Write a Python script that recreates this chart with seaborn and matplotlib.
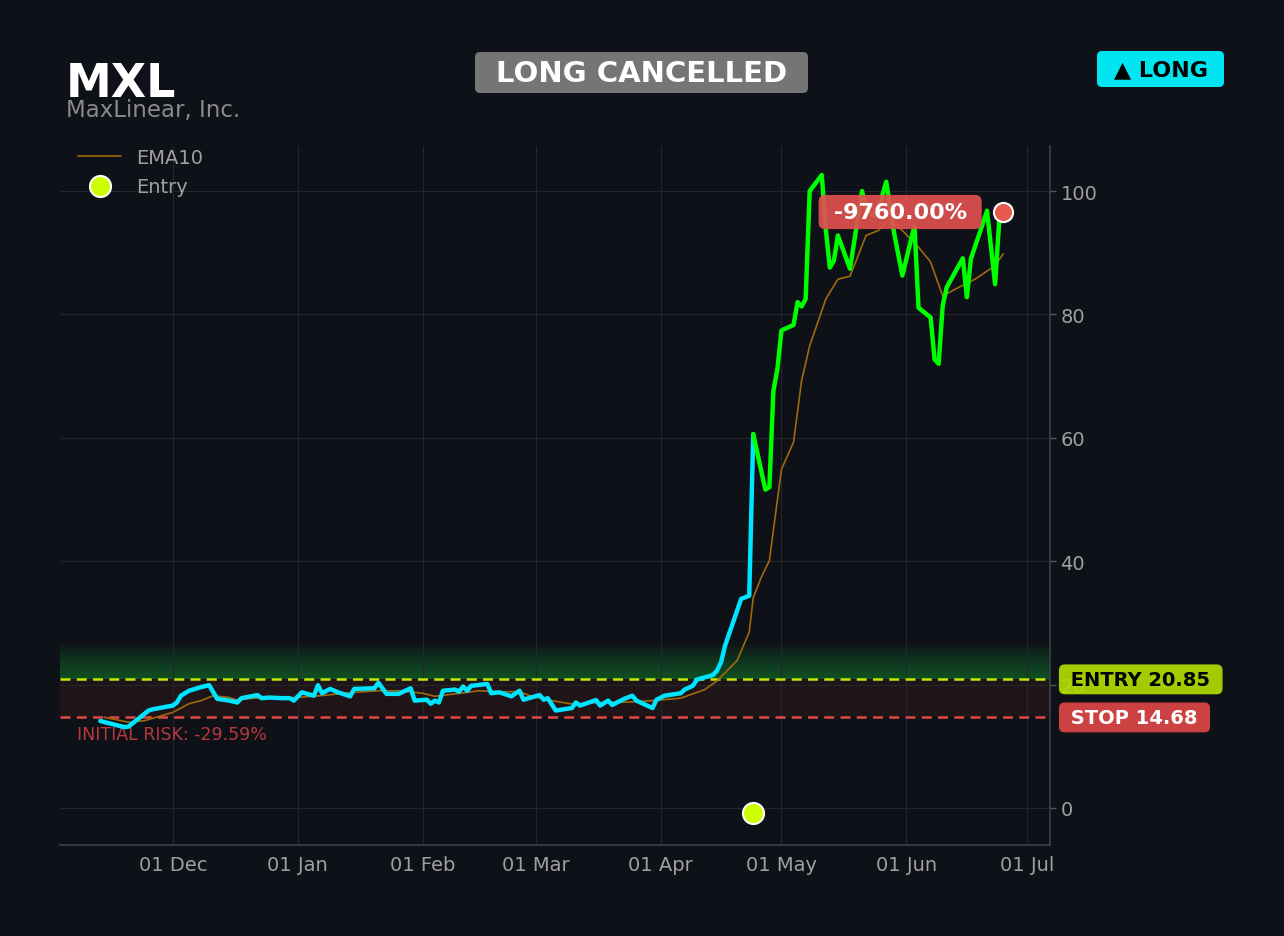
import pandas as pd
import seaborn as sns
import matplotlib.pyplot as plt
import matplotlib.dates as mdates
import matplotlib.transforms as mtransforms
from matplotlib.patches import FancyBboxPatch

# ---- data ----
ticker = 'MXL'
company = 'MaxLinear, Inc.'
status = 'LONG CANCELLED'
side = '\u25B2 LONG'
entry_price = 20.85
stop_price = 14.68
initial_risk = -29.59
pnl_pct = -9760.00
entry_date = '2025-04-24'
entry_marker_y = -0.8

price_dates = [
  '2024-11-13', '2024-11-19', '2024-11-20', '2024-11-25', '2024-11-26', '2024-12-01', '2024-12-02',
  '2024-12-03', '2024-12-05', '2024-12-08', '2024-12-10', '2024-12-12', '2024-12-15', '2024-12-17',
  '2024-12-18', '2024-12-22', '2024-12-23', '2024-12-25', '2024-12-28', '2024-12-30', '2024-12-31',
  '2025-01-02', '2025-01-05', '2025-01-06', '2025-01-07', '2025-01-09', '2025-01-11', '2025-01-14',
  '2025-01-15', '2025-01-20', '2025-01-21', '2025-01-23', '2025-01-26', '2025-01-29', '2025-01-30',
  '2025-02-02', '2025-02-03', '2025-02-04', '2025-02-05', '2025-02-06', '2025-02-09', '2025-02-10',
  '2025-02-11', '2025-02-12', '2025-02-13', '2025-02-17', '2025-02-18', '2025-02-20', '2025-02-23',
  '2025-02-25', '2025-02-26', '2025-03-02', '2025-03-03', '2025-03-04', '2025-03-06', '2025-03-10',
  '2025-03-11', '2025-03-12', '2025-03-16', '2025-03-17', '2025-03-19', '2025-03-20', '2025-03-23',
  '2025-03-25', '2025-03-26', '2025-03-30', '2025-03-31', '2025-04-02', '2025-04-06', '2025-04-07',
  '2025-04-09', '2025-04-10', '2025-04-14', '2025-04-15', '2025-04-16', '2025-04-17', '2025-04-21',
  '2025-04-23', '2025-04-24', '2025-04-27', '2025-04-28', '2025-04-29', '2025-04-30', '2025-05-01',
  '2025-05-04', '2025-05-05', '2025-05-06', '2025-05-07', '2025-05-08', '2025-05-11', '2025-05-12',
  '2025-05-13', '2025-05-14', '2025-05-15', '2025-05-18', '2025-05-21', '2025-05-22', '2025-05-24',
  '2025-05-25', '2025-05-27', '2025-05-29', '2025-05-31', '2025-06-03', '2025-06-04', '2025-06-07',
  '2025-06-08', '2025-06-09', '2025-06-10', '2025-06-11', '2025-06-15', '2025-06-16', '2025-06-17',
  '2025-06-21', '2025-06-23', '2025-06-24', '2025-06-25',
]
price_values = [
  14.1, 13.1, 13.2, 15.8, 16.0, 16.6, 17.1,
  18.2, 19.0, 19.6, 19.9, 17.7, 17.4, 17.1,
  17.8, 18.3, 17.8, 17.9, 17.8, 17.8, 17.4,
  18.75, 18.2, 19.9, 18.6, 19.3, 18.75, 18.1,
  19.3, 19.4, 20.3, 18.5, 18.5, 19.4, 17.4,
  17.55, 16.9, 17.4, 17.1, 19.0, 19.2, 18.85,
  19.7, 19.0, 19.8, 20.1, 18.6, 18.75, 18.1,
  19.0, 17.55, 18.3, 17.55, 17.8, 15.8, 16.2,
  17.1, 16.6, 17.5, 16.6, 17.4, 16.7, 17.7,
  18.2, 17.4, 16.2, 17.55, 18.2, 18.6, 19.2,
  19.8, 20.8, 21.55, 22.25, 23.6, 26.3, 33.9,
  34.4, 60.6, 51.6, 52.0, 67.6, 71.2, 77.4,
  78.3, 82.0, 81.3, 82.5, 100.0, 102.6, 93.8,
  87.6, 88.7, 92.8, 87.4, 100.0, 97.0, 96.0,
  97.0, 101.5, 93.0, 86.3, 94.4, 81.1, 79.5,
  72.7, 72.0, 81.4, 84.4, 89.1, 82.8, 89.0,
  96.8, 84.9, 94.9, 96.6,
]

ema_dates = [
  '2024-11-14', '2024-11-20', '2024-11-24', '2024-12-01', '2024-12-05', '2024-12-08', '2024-12-11',
  '2024-12-15', '2024-12-17', '2024-12-21', '2024-12-31', '2025-01-05', '2025-01-15', '2025-01-21',
  '2025-01-26', '2025-02-01', '2025-02-04', '2025-02-09', '2025-02-15', '2025-02-20', '2025-02-25',
  '2025-02-28', '2025-03-05', '2025-03-10', '2025-03-17', '2025-03-25', '2025-03-30', '2025-04-06',
  '2025-04-09', '2025-04-12', '2025-04-15', '2025-04-20', '2025-04-23', '2025-04-24', '2025-04-26',
  '2025-04-28', '2025-05-01', '2025-05-04', '2025-05-06', '2025-05-08', '2025-05-12', '2025-05-15',
  '2025-05-18', '2025-05-22', '2025-05-25', '2025-05-28', '2025-05-31', '2025-06-04', '2025-06-07',
  '2025-06-10', '2025-06-14', '2025-06-18', '2025-06-23', '2025-06-25',
]
ema_values = [
  14.7, 13.9, 14.15, 15.5, 16.9, 17.4, 18.2,
  17.9, 17.5, 17.8, 17.9, 18.1, 18.75, 19.0,
  19.0, 18.6, 18.1, 18.5, 19.0, 18.85, 18.85,
  18.1, 17.4, 16.85, 17.1, 17.2, 17.4, 17.8,
  18.5, 19.2, 20.6, 23.9, 28.5, 34.1, 37.4,
  40.1, 54.9, 59.3, 69.3, 74.9, 82.5, 85.7,
  86.2, 92.8, 93.6, 95.5, 93.6, 90.9, 88.5,
  83.0, 84.4, 85.7, 87.9, 89.8,
]

BG = '#0e1117'
W, H = 1284, 937

sns.set_theme(style='dark', rc={
  'axes.facecolor': BG, 'figure.facecolor': BG, 'savefig.facecolor': BG,
  'grid.color': '#22262d', 'grid.linewidth': 0.8,
  'xtick.color': '#a0a0a0', 'ytick.color': '#a0a0a0',
  'axes.edgecolor': '#3a3e45',
})
plt.rcParams['font.family'] = ['DejaVu Sans']

price = pd.DataFrame({'date': pd.to_datetime(price_dates), 'close': price_values})
ema = pd.DataFrame({'date': pd.to_datetime(ema_dates), 'ema': ema_values})
split = pd.Timestamp(entry_date)
before = price[price['date'] <= split]
after = price[price['date'] >= split]

fig = plt.figure(figsize=(W / 100, H / 100), dpi=100)
ax = fig.add_axes([60 / W, 1 - 846 / H, 990 / W, 699 / H])

# risk zone and fading green zone above entry
ax.axhspan(stop_price, entry_price, color='#e74c3c', alpha=0.08, lw=0, zorder=0.5)
n_bands = 14
for i in range(n_bands):
  ax.axhspan(entry_price, entry_price + 5.9 * (i + 1) / n_bands, color='#2ecc40', alpha=0.03, lw=0, zorder=0.5)
ax.axhline(entry_price, color='#c8e600', lw=1.8, ls=(0, (4, 2.5)), zorder=2)
ax.axhline(stop_price, color='#e04848', lw=1.8, ls=(0, (4, 2.5)), zorder=2)

sns.lineplot(data=ema, x='date', y='ema', ax=ax, color='#9e6a0c', lw=1.2, label='EMA10', zorder=3, estimator=None)
sns.lineplot(data=before, x='date', y='close', ax=ax, color='#00e5ff', lw=3.2, zorder=4, estimator=None)
sns.lineplot(data=after, x='date', y='close', ax=ax, color='#00ff00', lw=3.2, zorder=4, estimator=None)
sns.scatterplot(x=[split], y=[entry_marker_y], ax=ax, s=230, color='#ccff00', edgecolor='white',
                linewidth=1.5, zorder=6, label='Entry')
last = price.iloc[-1]
sns.scatterplot(x=[last['date']], y=[last['close']], ax=ax, s=190, color='#e85a50', edgecolor='white',
                linewidth=1.5, zorder=6)

ax.set_xlim(pd.Timestamp('2024-11-03'), pd.Timestamp('2025-07-06 15:00'))
ax.set_ylim(-6, 107.3)
ax.set_xlabel('')
ax.set_ylabel('')
ax.yaxis.tick_right()
ax.set_yticks([0, 20, 40, 60, 80, 100])
ax.xaxis.set_major_locator(mdates.MonthLocator())
ax.xaxis.set_major_formatter(mdates.DateFormatter('%d %b'))
ax.tick_params(axis='both', labelsize=14, colors='#a0a0a0', length=4, width=1)
ax.tick_params(axis='both', color='#555a60')
ax.grid(True, zorder=0)
for s in ['left', 'top']:
  ax.spines[s].set_visible(False)
for s in ['right', 'bottom']:
  ax.spines[s].set_color('#3a3e45')

leg = ax.legend(loc='upper left', frameon=False, fontsize=14, labelcolor='#a0a0a0',
                handlelength=2.2, borderaxespad=0, labelspacing=0.5,
                bbox_to_anchor=(0.0105, 1.0085))

blend = mtransforms.blended_transform_factory(ax.transAxes, ax.transData)
ax.text(0.017, stop_price - 2.68, 'INITIAL RISK: {:.2f}%'.format(initial_risk), transform=blend,
        color='#b8383c', fontsize=12.5, va='center', ha='left')
ax.text(1.0145, entry_price, ' ENTRY {:.2f} '.format(entry_price), transform=blend, clip_on=False,
        color='black', fontsize=14, fontweight='bold', va='center', ha='left', zorder=10,
        bbox=dict(boxstyle='round,pad=0.28,rounding_size=0.3', fc='#b5e000', ec='none', alpha=0.9))
ax.text(1.0145, stop_price, ' STOP {:.2f} '.format(stop_price), transform=blend, clip_on=False,
        color='white', fontsize=14, fontweight='bold', va='center', ha='left', zorder=10,
        bbox=dict(boxstyle='round,pad=0.28,rounding_size=0.3', fc='#d84444', ec='none', alpha=0.95))
ax.annotate(' {:.2f}% '.format(pnl_pct), xy=(last['date'], last['close']), xytext=(-103, 0),
            textcoords='offset pixels', ha='center', va='center', color='white', fontsize=16,
            fontweight='bold', zorder=7,
            bbox=dict(boxstyle='round,pad=0.32,rounding_size=0.3', fc='#e05050', ec='none', alpha=0.92))

# header
fig.text(66 / W, 1 - 97 / H, ticker, color='white', fontsize=33, fontweight='bold', va='baseline')
fig.text(66 / W, 1 - 117 / H, company, color='#8a8a8a', fontsize=16.5, va='baseline')


def badge(x0, y0, x1, y1, fc, text, tc, size):
  fig.patches.append(FancyBboxPatch((x0, H - y1), x1 - x0, y1 - y0,
                                    boxstyle='round,pad=0,rounding_size=5', fc=fc, ec='none',
                                    transform=None, figure=fig))
  fig.text((x0 + x1) / 2 / W, 1 - (y0 + y1) / 2 / H, text, color=tc, fontsize=size,
           fontweight='bold', ha='center', va='center')


badge(475, 53, 808, 94, '#757575', status, 'white', 21)
badge(1097, 52, 1224, 88, '#00e5f0', side, 'black', 16)

fig.savefig('out.png', dpi=100, facecolor=BG)
